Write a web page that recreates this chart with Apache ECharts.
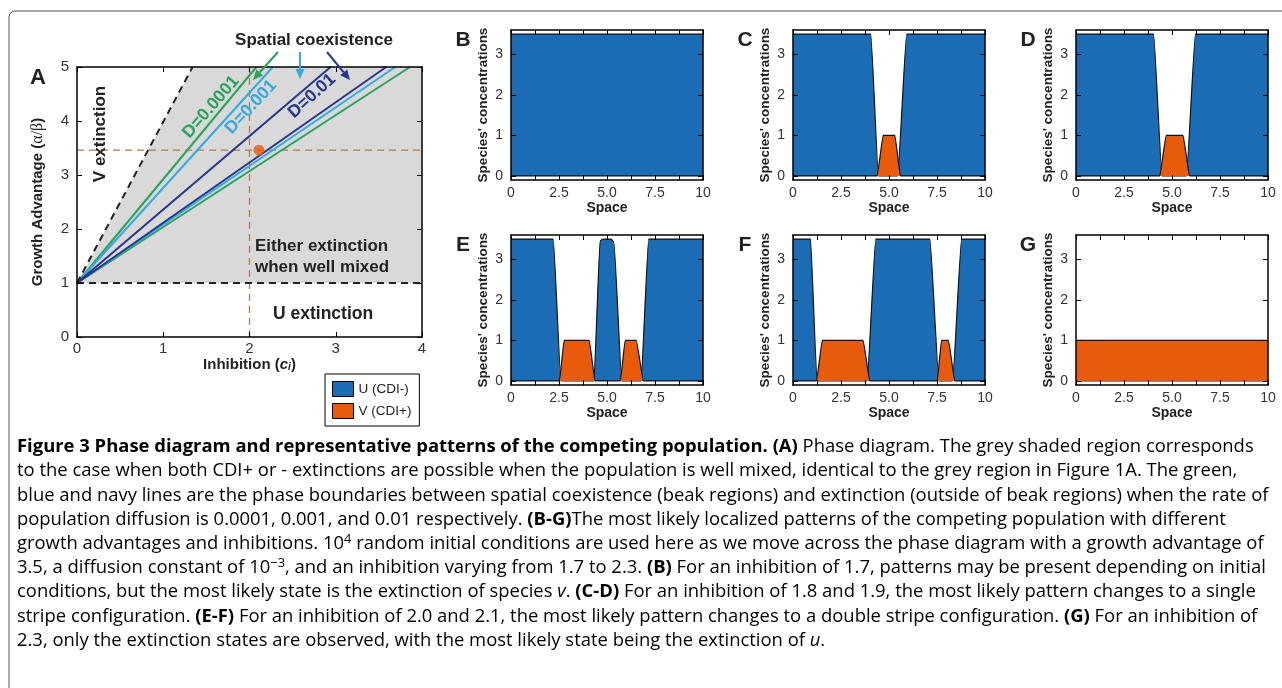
<!DOCTYPE html>
<html>
<head>
<meta charset="utf-8">
<title>Figure 3</title>
<script src="https://cdn.jsdelivr.net/npm/echarts@6/dist/echarts.min.js"></script>
<style>
html, body { margin: 0; padding: 0; background: #fff; }
#chart { width: 1282px; height: 688px; }
</style>
</head>
<body>
<div id="chart"></div>
<script>
// panel A: phase diagram
const grey_region = [[0, 1], [1.34, 5], [4, 5], [4, 1]]
const v_extinction_line = [[0, 1], [1.34, 5]]
const u_extinction_line = [[0, 1], [4, 1]]
const green_lines = [[[0, 1], [2.08, 5]], [[0, 1], [3.86, 5]]]
const light_blue_lines = [[[0, 1], [2.27, 5]], [[0, 1], [3.69, 5]]]
const navy_lines = [[[0, 1], [2.94, 5]], [[0, 1], [3.585, 5]]]
const guide_vertical = [[2, 0], [2, 5]]
const guide_horizontal = [[0, 3.46], [4, 3.46]]
const chosen_point = [[2.11, 3.46]]

// panels B-G: species concentrations over space
const space_ticks = [0, 2.5, 5, 7.5, 10]
const space_tick_labels = ['0', '2.5', '5.0', '7.5', '10']
const conc_ticks = [0, 1, 2, 3]

const u_b = [[0, 3.5], [10, 3.5]]
const v_b = [[0, 0], [10, 0]]

const u_c = [[0, 3.5], [4.05, 3.5], [4.45, 0], [5.45, 0], [5.92, 3.5], [10, 3.5]]
const v_c = [[0, 0], [4.38, 0], [4.7, 1], [5.3, 1], [5.6, 0], [10, 0]]

const u_d = [[0, 3.5], [4.04, 3.5], [4.48, 0], [5.75, 0], [6.22, 3.5], [10, 3.5]]
const v_d = [[0, 0], [4.36, 0], [4.7, 1], [5.57, 1], [5.92, 0], [10, 0]]

const u_e = [[0, 3.5], [2.2, 3.5], [2.6, 0], [4.32, 0], [4.64, 3.45], [4.78, 3.5], [5.22, 3.5], [5.36, 3.42], [5.77, 0], [6.77, 0], [7.17, 3.5], [10, 3.5]]
const v_e = [[0, 0], [2.52, 0], [2.77, 1], [4.07, 1], [4.38, 0], [5.69, 0], [5.95, 1], [6.52, 1], [6.9, 0], [10, 0]]

const u_f = [[0, 3.5], [0.91, 3.5], [1.25, 0], [3.86, 0], [4.31, 3.5], [7.13, 3.5], [7.6, 0], [8.31, 0], [8.78, 3.5], [10, 3.5]]
const v_f = [[0, 0], [1.22, 0], [1.53, 1], [3.65, 1], [4.0, 0], [7.51, 0], [7.74, 1], [8.09, 1], [8.43, 0], [10, 0]]

const u_g = [[0, 0], [10, 0]]
const v_g = [[0, 1], [10, 1]]

// caption, one entry per printed line: [style, text]
const caption_lines = [
    [['b', 'Figure 3 Phase diagram and representative patterns of the competing population. (A)'], ['n', ' Phase diagram. The grey shaded region corresponds']],
    [['n', 'to the case when both CDI+ or - extinctions are possible when the population is well mixed, identical to the grey region in Figure 1A. The green,']],
    [['n', 'blue and navy lines are the phase boundaries between spatial coexistence (beak regions) and extinction (outside of beak regions) when the rate of']],
    [['n', 'population diffusion is 0.0001, 0.001, and 0.01 respectively. '], ['b', '(B-G)'], ['n', 'The most likely localized patterns of the competing population with different']],
    [['n', 'growth advantages and inhibitions. 10'], ['sup', '4'], ['n', ' random initial conditions are used here as we move across the phase diagram with a growth advantage of']],
    [['n', '3.5, a diffusion constant of 10'], ['sup', '\u22123'], ['n', ', and an inhibition varying from 1.7 to 2.3. '], ['b', '(B)'], ['n', ' For an inhibition of 1.7, patterns may be present depending on initial']],
    [['n', 'conditions, but the most likely state is the extinction of species '], ['i', 'v'], ['n', '. '], ['b', '(C-D)'], ['n', ' For an inhibition of 1.8 and 1.9, the most likely pattern changes to a single']],
    [['n', 'stripe configuration. '], ['b', '(E-F)'], ['n', ' For an inhibition of 2.0 and 2.1, the most likely pattern changes to a double stripe configuration. '], ['b', '(G)'], ['n', ' For an inhibition of']],
    [['n', '2.3, only the extinction states are observed, with the most likely state being the extinction of '], ['i', 'u'], ['n', '.']]
]

// colours
const blue_fill = '#1a6db5'
const orange_fill = '#e85a0c'
const green = '#2aa25c'
const light_blue = '#35a9e1'
const navy = '#26368a'
const guide_color = '#b07a52'
const font = '"Liberation Sans", Arial, sans-serif'
const caption_font = '"Open Sans", sans-serif'

const panels = [
    { letter: 'B', u: u_b, v: v_b, left: 511, top: 30 },
    { letter: 'C', u: u_c, v: v_c, left: 793, top: 30 },
    { letter: 'D', u: u_d, v: v_d, left: 1076, top: 30 },
    { letter: 'E', u: u_e, v: v_e, left: 511, top: 235 },
    { letter: 'F', u: u_f, v: v_f, left: 793, top: 235 },
    { letter: 'G', u: u_g, v: v_g, left: 1076, top: 235 }
]

const grids = []
const x_axes = []
const y_axes = []
const series = []

function boxLine() {
    return { show: true, onZero: false, lineStyle: { color: '#000', width: 1.5 } }
}
function innerTick(extra) {
    return Object.assign({ show: true, inside: true, length: 5, lineStyle: { color: '#000', width: 1 } }, extra || {})
}

// grid 0 = panel A
grids.push({ left: 77, top: 67, width: 345, height: 270 })
x_axes.push({
    gridIndex: 0, type: 'value', position: 'bottom', min: 0, max: 4, interval: 1, z: 5,
    axisLine: boxLine(), axisTick: innerTick(), splitLine: { show: false },
    axisLabel: { fontSize: 15, color: '#333', margin: 4, fontFamily: font },
    name: '{b|Inhibition (}{it|c}{sub|i}{b|)}', nameLocation: 'middle', nameGap: 12,
    nameTextStyle: {
        rich: {
            b: { fontFamily: font, fontWeight: 'bold', fontSize: 15, color: '#222' },
            it: { fontFamily: font, fontWeight: 'bold', fontStyle: 'italic', fontSize: 15, color: '#222' },
            sub: { fontFamily: font, fontWeight: 'bold', fontStyle: 'italic', fontSize: 10, color: '#222', verticalAlign: 'bottom' }
        }
    }
})
x_axes.push({
    gridIndex: 0, type: 'value', position: 'top', min: 0, max: 4, interval: 1, z: 5,
    axisLine: boxLine(), axisTick: innerTick(), axisLabel: { show: false }, splitLine: { show: false }
})
y_axes.push({
    gridIndex: 0, type: 'value', position: 'left', min: 0, max: 5, interval: 1, z: 5,
    axisLine: boxLine(), axisTick: innerTick(), splitLine: { show: false },
    axisLabel: { fontSize: 15, color: '#333', margin: 8, fontFamily: font },
    name: '{b|Growth Advantage (}{g|\u03b1/\u03b2}{b|)}', nameLocation: 'middle', nameGap: 31,
    nameTextStyle: {
        rich: {
            b: { fontFamily: font, fontWeight: 'bold', fontSize: 15, color: '#222' },
            g: { fontFamily: '"Liberation Serif", serif', fontSize: 16, color: '#222' }
        }
    }
})
y_axes.push({
    gridIndex: 0, type: 'value', position: 'right', min: 0, max: 5, interval: 1, z: 5,
    axisLine: boxLine(), axisTick: innerTick(), axisLabel: { show: false }, splitLine: { show: false }
})

// grey "either extinction" region
series.push({
    type: 'custom', xAxisIndex: 0, yAxisIndex: 0, z: 1, silent: true,
    data: [grey_region[0]],
    renderItem: (params, api) => ({
        type: 'polygon',
        shape: { points: grey_region.map(p => api.coord(p)) },
        style: { fill: '#d9d9d9' }
    })
})

function phaseLine(data, color, width, dash) {
    return {
        type: 'line', xAxisIndex: 0, yAxisIndex: 0, data: data, symbol: 'none', silent: true,
        lineStyle: { color: color, width: width, type: dash ? [7, 5] : 'solid' }
    }
}
series.push(phaseLine(guide_vertical, guide_color, 1.3, true))
series.push(phaseLine(guide_horizontal, guide_color, 1.3, true))
green_lines.forEach(l => series.push(phaseLine(l, green, 2)))
light_blue_lines.forEach(l => series.push(phaseLine(l, light_blue, 2)))
navy_lines.forEach(l => series.push(phaseLine(l, navy, 2)))
series.push(phaseLine(v_extinction_line, '#222', 2, true))
series.push(phaseLine(u_extinction_line, '#222', 2, true))
series.push({
    type: 'scatter', xAxisIndex: 0, yAxisIndex: 0, data: chosen_point, symbolSize: 11, z: 4,
    itemStyle: { color: orange_fill }
})

// panels B-G
panels.forEach((p, k) => {
    const gi = k + 1
    grids.push({ left: p.left, top: p.top, width: 192, height: 150 })
    x_axes.push({
        gridIndex: gi, type: 'value', position: 'bottom', min: 0, max: 10, interval: 1.25, z: 5,
        axisLine: boxLine(), axisTick: innerTick(), splitLine: { show: false },
        axisLabel: {
            customValues: space_ticks, fontSize: 14, color: '#333', margin: 6, fontFamily: font,
            formatter: v => space_tick_labels[space_ticks.indexOf(v)]
        },
        name: 'Space', nameLocation: 'middle', nameGap: 18,
        nameTextStyle: { fontFamily: font, fontWeight: 'bold', fontSize: 14, color: '#222' }
    })
    x_axes.push({
        gridIndex: gi, type: 'value', position: 'top', min: 0, max: 10, interval: 1.25, z: 5,
        axisLine: boxLine(), axisTick: innerTick(), axisLabel: { show: false }, splitLine: { show: false }
    })
    y_axes.push({
        gridIndex: gi, type: 'value', position: 'left', min: -0.1, max: 3.6, z: 5,
        axisLine: boxLine(), axisTick: innerTick({ customValues: conc_ticks }), splitLine: { show: false },
        axisLabel: { customValues: conc_ticks, fontSize: 14, color: '#333', margin: 8, fontFamily: font },
        name: "Species' concentrations", nameLocation: 'middle', nameGap: 21,
        nameTextStyle: { fontFamily: font, fontWeight: 'bold', fontSize: 13.5, color: '#222' }
    })
    y_axes.push({
        gridIndex: gi, type: 'value', position: 'right', min: -0.1, max: 3.6, z: 5,
        axisLine: boxLine(), axisTick: innerTick({ customValues: conc_ticks }), axisLabel: { show: false }, splitLine: { show: false }
    })
    const ai = gi * 2
    series.push({
        name: 'U (CDI-)', type: 'line', xAxisIndex: ai, yAxisIndex: ai, data: p.u, symbol: 'none',
        smooth: 0.15, smoothMonotone: 'x', color: blue_fill, z: 2,
        lineStyle: { color: '#111', width: 1.2 }, areaStyle: { color: blue_fill, opacity: 1 }
    })
    series.push({
        name: 'V (CDI+)', type: 'line', xAxisIndex: ai, yAxisIndex: ai, data: p.v, symbol: 'none',
        smooth: 0.15, smoothMonotone: 'x', color: orange_fill, z: 3,
        lineStyle: { color: '#111', width: 1.2 }, areaStyle: { color: orange_fill, opacity: 1 }
    })
})

// small arrow used for the "Spatial coexistence" pointers
function arrow(x1, y1, x2, y2, color) {
    const a = Math.atan2(y2 - y1, x2 - x1)
    const hl = 10, hw = 4.5
    const bx = x2 - hl * Math.cos(a), by = y2 - hl * Math.sin(a)
    return {
        type: 'group', z: 10, children: [
            { type: 'line', z: 10, shape: { x1: x1, y1: y1, x2: bx, y2: by }, style: { stroke: color, lineWidth: 2 } },
            {
                type: 'polygon', z: 10,
                shape: { points: [[x2, y2], [bx - hw * Math.sin(a), by + hw * Math.cos(a)], [bx + hw * Math.sin(a), by - hw * Math.cos(a)]] },
                style: { fill: color }
            }
        ]
    }
}

function label(text, x, y, size, color, deg, align) {
    return {
        type: 'text', x: x, y: y, rotation: (deg || 0) * Math.PI / 180, z: 10,
        style: {
            text: text, fill: color || '#222', font: 'bold ' + size + 'px ' + font,
            align: align || 'center', verticalAlign: 'middle', lineHeight: 21
        }
    }
}

// caption font size fitted to the first and third line widths
function textWidth(parts, size) {
    const ctx = document.createElement('canvas').getContext('2d')
    let w = 0
    parts.forEach(([k, t]) => {
        ctx.font = (k === 'b' ? 'bold ' : '') + (k === 'sup' ? size * 0.7 : size) + 'px ' + caption_font
        w += ctx.measureText(t).width
    })
    return w
}
const cap_size = 16 * 1245 * 2 / (textWidth(caption_lines[0], 16) + textWidth(caption_lines[2], 16))
const cap_rich = {
    n: { fontFamily: caption_font, fontSize: cap_size, color: '#231f20', lineHeight: 22 },
    b: { fontFamily: caption_font, fontSize: cap_size, fontWeight: 'bold', color: '#231f20', lineHeight: 22 },
    i: { fontFamily: caption_font, fontSize: cap_size, fontStyle: 'italic', color: '#231f20', lineHeight: 22 },
    sup: { fontFamily: caption_font, fontSize: cap_size * 0.7, color: '#231f20', lineHeight: 22, verticalAlign: 'top' }
}
const caption_graphics = caption_lines.map((line, i) => ({
    type: 'text', x: 17, y: 447 + i * 24.2,
    style: {
        text: line.map(([k, t]) => '{' + k + '|' + t + '}').join(''),
        rich: cap_rich, align: 'left', verticalAlign: 'middle'
    }
}))

const graphics = [
    // outer frame
    { type: 'rect', shape: { x: 9, y: 11, width: 1300, height: 720, r: 6 }, style: { fill: 'none', stroke: '#555', lineWidth: 1 }, z: 0 },
    label('A', 38, 78, 22),
    label('Spatial coexistence', 314, 40, 17),
    arrow(278, 52, 253, 80, green),
    arrow(300, 52, 300, 79, light_blue),
    arrow(327, 52, 350, 80, navy),
    label('V extinction', 100, 134, 17, '#222', 90),
    label('D=0.0001', 211, 107, 17.5, green, 49),
    label('D=0.001', 251, 107, 17.5, light_blue, 47),
    label('D=0.01', 312, 96, 17.5, navy, 42),
    label('Either extinction\nwhen well mixed', 255, 257, 17, '#222', 0, 'left'),
    label('U extinction', 273, 314, 17.5, '#222', 0, 'left')
]
panels.forEach(p => {
    graphics.push(label(p.letter, p.left - 48, p.top + 10, 21))
})

const my_chart = echarts.init(document.getElementById('chart'))
my_chart.setOption({
    animation: false,
    backgroundColor: '#fff',
    grid: grids,
    xAxis: x_axes,
    yAxis: y_axes,
    legend: {
        left: 325, top: 374, orient: 'vertical',
        icon: 'rect', itemWidth: 21, itemHeight: 15, itemGap: 6,
        padding: [7, 8, 7, 7],
        borderColor: '#000', borderWidth: 1,
        selectedMode: false,
        itemStyle: { borderColor: '#000', borderWidth: 1 },
        textStyle: { fontSize: 13.5, color: '#222', fontFamily: font },
        data: ['U (CDI-)', 'V (CDI+)']
    },
    series: series,
    graphic: graphics.concat(caption_graphics)
})
</script>
</body>
</html>
